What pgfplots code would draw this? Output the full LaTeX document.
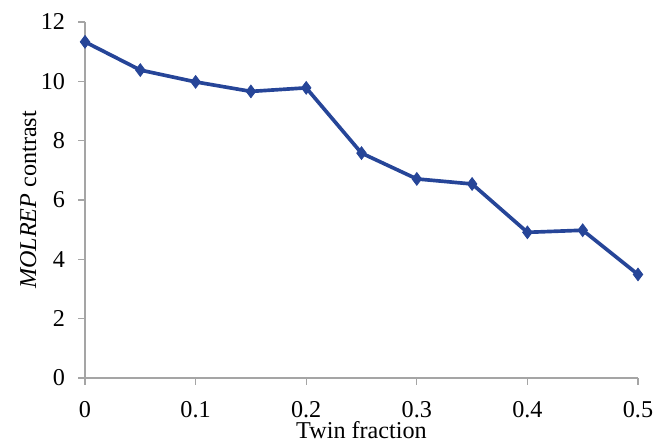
\documentclass[border=0pt]{standalone}
\usepackage{fontspec}
\setmainfont{Liberation Serif}
\usepackage{pgfplots}
\pgfplotsset{compat=1.18}
\definecolor{lineblue}{RGB}{38,69,152}
\definecolor{axgray}{RGB}{165,165,165}
\begin{document}
\fontsize{14.5pt}{17pt}\selectfont
\begin{tikzpicture}
\useasboundingbox (0,0) rectangle (392.4pt,266.4pt);
\clip (0,0) rectangle (392.4pt,266.4pt);
\begin{axis}[
    at={(51pt,39.6pt)}, anchor=south west,
    width=331.8pt, height=213.6pt, scale only axis,
    xmin=0, xmax=0.5, ymin=0, ymax=12,
    xtick={0,0.1,...,0.5}, ytick={0,2,...,12},
    axis x line*=bottom, axis y line*=left,
    axis line style={axgray, line width=0.8pt, -},
    tick style={axgray, line width=0.8pt},
    tick align=outside, major tick length=4pt,
    xticklabel style={anchor=base, yshift=-19.5pt},
    yticklabel style={xshift=-3pt},
    /pgf/number format/assume math mode=true,
    /pgf/number format/fixed,
    xlabel={Twin fraction},
    ylabel={\textit{MOLREP} contrast},
    xlabel style={at={(axis description cs:0.5,0)}, anchor=center, yshift=-31.5pt},
    ylabel style={at={(axis description cs:0,0.5)}, anchor=center, yshift=34pt},
    tick label style={font=\fontsize{14.5pt}{17pt}\selectfont},
    label style={font=\fontsize{14.5pt}{17pt}\selectfont},
    clip=false,
]
\addplot[lineblue, line width=2.2pt, mark=diamond*, mark size=3.8pt,
    mark options={fill=lineblue, line width=0.5pt}]
coordinates {
(0,11.33) (0.05,10.38) (0.1,9.98) (0.15,9.66) (0.2,9.78) (0.25,7.58)
(0.3,6.71) (0.35,6.54) (0.4,4.91) (0.45,4.98) (0.5,3.49)
};
\end{axis}
\end{tikzpicture}
\end{document}
